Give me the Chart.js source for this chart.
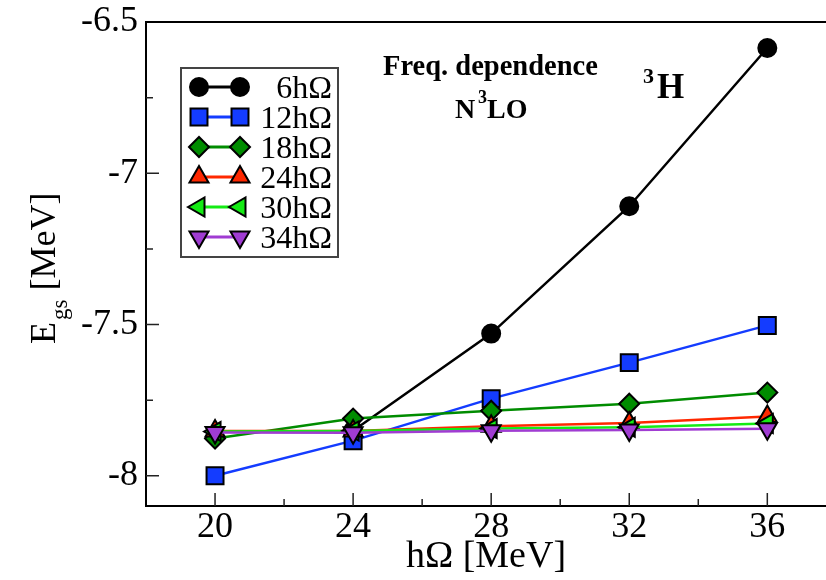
<!DOCTYPE html>
<html>
<head>
<meta charset="utf-8">
<script src="https://cdn.jsdelivr.net/npm/chart.js@4.4.1/dist/chart.umd.min.js"></script>
<style>
  html, body { margin: 0; padding: 0; background: #fff; overflow: hidden; }
</style>
</head>
<body>
<canvas id="c" width="826" height="580"></canvas>
<script>
// hbar-omega values (MeV) on the x axis
const hw = [20, 24, 28, 32, 36];
const names = ['6hΩ', '12hΩ', '18hΩ', '24hΩ', '30hΩ', '34hΩ'];
// ground state energies (MeV), one array per model space
const e6  = [null, -7.851, -7.530, -7.109, -6.586];
const e12 = [-8.000, -7.884, -7.745, -7.626, -7.503];
const e18 = [-7.877, -7.811, -7.785, -7.762, -7.725];
const e24 = [-7.852, -7.852, -7.836, -7.826, -7.804];
const e30 = [-7.854, -7.852, -7.844, -7.840, -7.827];
const e34 = [-7.857, -7.858, -7.851, -7.849, -7.845];
const xTicks = [20, 24, 28, 32, 36];
const xMinor = [22, 26, 30, 34];
const yTicks = [-8, -7.5, -7, -6.5];
const yMinor = [-7.75, -7.25, -6.75];

const series = [e6, e12, e18, e24, e30, e34];
const colors = ['#000000', 'rgb(20,60,255)', 'rgb(0,140,0)', 'rgb(255,40,0)', 'rgb(20,235,20)', 'rgb(160,60,210)'];
const styles = ['circle', 'rect', 'rectRot', 'triangle', 'triangle', 'triangle'];
const rotations = [0, 0, 0, 0, -90, 180];
const radii = [9, 12, 10, 11, 11, 11];

const serif = '"Liberation Serif", "Times New Roman", serif';

const datasets = series.map((arr, i) => ({
  label: names[i],
  data: hw.map((x, j) => ({ x, y: arr[j] })).filter(p => p.y !== null),
  borderColor: colors[i],
  backgroundColor: colors[i],
  borderWidth: 2.5,
  pointStyle: styles[i],
  pointRotation: rotations[i],
  pointRadius: radii[i],
  pointBorderColor: '#000',
  pointBorderWidth: 2,
  pointBackgroundColor: colors[i],
  order: series.length - i,
  tension: 0
}));

// inner tick marks + top frame line
const frame = {
  id: 'frame',
  beforeDatasetsDraw(chart) {
    const { ctx, chartArea: a, scales: { x, y } } = chart;
    ctx.save();
    ctx.strokeStyle = '#222';
    ctx.lineWidth = 1.5;
    ctx.beginPath();
    xTicks.forEach(v => { const px = x.getPixelForValue(v); ctx.moveTo(px, a.bottom); ctx.lineTo(px, a.bottom - 13); });
    xMinor.forEach(v => { const px = x.getPixelForValue(v); ctx.moveTo(px, a.bottom); ctx.lineTo(px, a.bottom - 7); });
    yTicks.forEach(v => { const py = y.getPixelForValue(v); ctx.moveTo(a.left, py); ctx.lineTo(a.left + 13, py); });
    yMinor.forEach(v => { const py = y.getPixelForValue(v); ctx.moveTo(a.left, py); ctx.lineTo(a.left + 7, py); });
    ctx.stroke();
    ctx.strokeStyle = '#000';
    ctx.lineWidth = 2;
    ctx.beginPath();
    ctx.moveTo(a.left, a.top);
    ctx.lineTo(a.right, a.top);
    ctx.stroke();
    ctx.restore();
  }
};

// legend box, y title with subscript, and text annotations
const extras = {
  id: 'extras',
  afterDraw(chart) {
    const ctx = chart.ctx;
    ctx.save();

    // legend
    ctx.strokeStyle = '#444';
    ctx.lineWidth = 2;
    ctx.strokeRect(181, 68, 157, 189);
    chart.data.datasets.forEach((ds, i) => {
      const cy = 87 + 30 * i;
      ctx.strokeStyle = ds.borderColor;
      ctx.lineWidth = 3;
      ctx.beginPath();
      ctx.moveTo(199, cy);
      ctx.lineTo(240, cy);
      ctx.stroke();
      ctx.fillStyle = ds.pointBackgroundColor;
      ctx.strokeStyle = '#000';
      ctx.lineWidth = 2;
      const opt = { pointStyle: ds.pointStyle, rotation: ds.pointRotation, radius: ds.pointRadius, borderWidth: 2 };
      Chart.helpers.drawPoint(ctx, opt, 199, cy);
      Chart.helpers.drawPoint(ctx, opt, 240, cy);
      ctx.fillStyle = '#000';
      ctx.font = '32px ' + serif;
      ctx.textAlign = 'right';
      ctx.textBaseline = 'alphabetic';
      ctx.fillText(ds.label, 332, cy + 11);
    });

    // y axis title: E_gs [MeV]
    ctx.fillStyle = '#000';
    ctx.textAlign = 'left';
    ctx.textBaseline = 'alphabetic';
    ctx.translate(55, 344);
    ctx.rotate(-Math.PI / 2);
    ctx.font = '36px ' + serif;
    ctx.fillText('E', 0, 0);
    let w = ctx.measureText('E').width + 2;
    ctx.font = '23px ' + serif;
    ctx.fillText('gs', w, 12);
    w += ctx.measureText('gs').width;
    ctx.font = '36px ' + serif;
    ctx.fillText(' [MeV]', w, 0);
    ctx.setTransform(1, 0, 0, 1, 0, 0);

    // annotations
    ctx.font = 'bold 28.5px ' + serif;
    ctx.textAlign = 'left';
    ctx.fillText('Freq. dependence', 383, 75);
    ctx.font = 'bold 28px ' + serif;
    ctx.fillText('N', 455, 118);
    ctx.fillText('LO', 487, 118);
    ctx.font = 'bold 18px ' + serif;
    ctx.fillText('3', 478, 103);
    ctx.font = 'bold 22px ' + serif;
    ctx.fillText('3', 643, 83);
    ctx.font = 'bold 35px ' + serif;
    ctx.fillText('H', 657, 98);
    ctx.restore();
  }
};

new Chart(document.getElementById('c').getContext('2d'), {
  type: 'line',
  data: { datasets },
  plugins: [frame, extras],
  options: {
    responsive: false,
    animation: false,
    devicePixelRatio: 1,
    layout: { autoPadding: false, padding: { top: 22, right: 0, bottom: 0, left: 0 } },
    plugins: { legend: { display: false }, tooltip: { enabled: false } },
    scales: {
      x: {
        type: 'linear',
        min: 18,
        max: 37.7,
        afterBuildTicks: s => { s.ticks = xTicks.map(v => ({ value: v })); },
        afterFit: s => { s.height = 74; s.paddingLeft = 0; s.paddingRight = 0; },
        grid: { display: false, drawTicks: false },
        border: { display: true, color: '#000', width: 2 },
        ticks: { color: '#000', font: { family: serif, size: 36 }, padding: 0, maxRotation: 0, callback: v => String(v) },
        title: { display: true, text: 'hΩ [MeV]', color: '#000', font: { family: serif, size: 38 }, padding: { top: 0, bottom: 0 } }
      },
      y: {
        min: -8.1,
        max: -6.5,
        afterBuildTicks: s => { s.ticks = yTicks.map(v => ({ value: v })); },
        afterFit: s => { s.width = 146; s.paddingTop = 0; s.paddingBottom = 0; },
        grid: { display: false, drawTicks: false },
        border: { display: true, color: '#000', width: 2 },
        ticks: { color: '#000', font: { family: serif, size: 36 }, padding: 8, callback: v => String(v) }
      }
    }
  }
});
</script>
</body>
</html>
